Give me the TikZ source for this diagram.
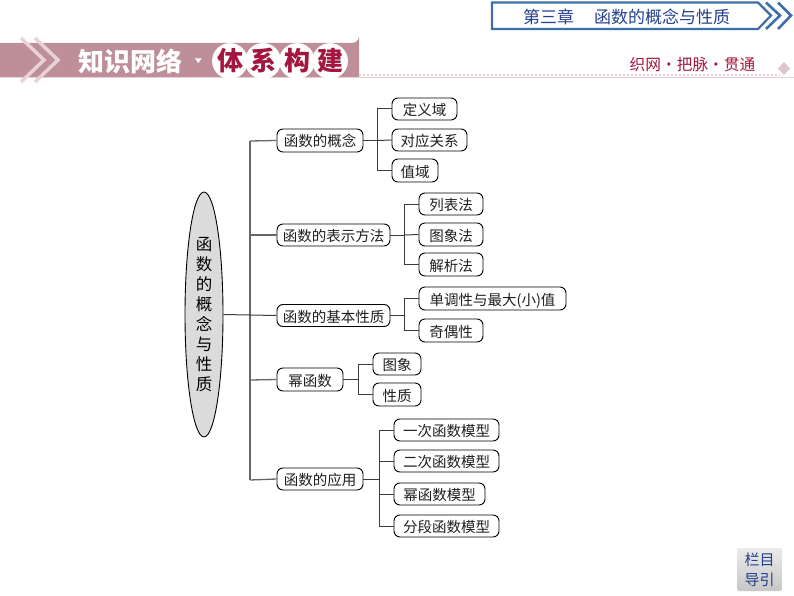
\documentclass[tikz,border=0pt]{standalone}
\usepackage{fontspec}
\setmainfont{Noto Sans CJK SC}
\usetikzlibrary{shapes.geometric,shadings}
\definecolor{bandpink}{HTML}{BE8F99}
\definecolor{palepink}{HTML}{E9D2D6}
\definecolor{crimson}{HTML}{A3173F}
\definecolor{headblue}{HTML}{3F6FA8}
\definecolor{navytext}{HTML}{24408F}
\definecolor{linegrey}{HTML}{3C3C3C}
\tikzset{
  x=1pt,y=-1pt,
  box/.style={draw=black,line width=0.9pt,rounded corners=6pt,fill=white,inner sep=0pt,text height=14pt,text depth=1pt,font=\fontsize{14.5}{16}\selectfont,text=black!88},
  wire/.style={draw=linegrey,line width=1pt},
  spinewire/.style={draw=black!60,line width=1.3pt},
  badge/.style={circle,fill=white,minimum size=32pt,inner sep=0pt,text=crimson,font=\fontsize{26}{28}\bfseries\selectfont},
  chev/.style={draw=palepink,line width=3.5pt,line join=miter,fill=none},
  bluechev/.style={draw=headblue,line width=2.2pt,line join=miter},
}
\begin{document}
\begin{tikzpicture}
\useasboundingbox (0,0) rectangle (794,596);
% header band
\fill[bandpink] (0,43) -- (352,43) arc[start angle=90,end angle=0,radius=7] -- (359,77) -- (0,77) -- cycle;
\draw[palepink,line width=1pt] (0,78) -- (794,78);
\draw[palepink,line width=1.2pt,dash pattern=on 2pt off 2pt] (359,75) -- (780,75);
\draw[chev] (21,38) -- (44,60) -- (21,82);
\draw[chev] (35,38) -- (58,60) -- (35,82);
\node[text=white,font=\fontsize{26}{28}\bfseries\selectfont,inner sep=0pt] (hA) at (130,61) {知识网络};
\fill[white] (195,58.5) -- (201.5,58.5) -- (198.2,63) -- cycle;
\node[badge] (hB) at (230,61) {体};
\node[badge] (hC) at (263,61) {系};
\node[badge] (hD) at (297,61) {构};
\node[badge] (hE) at (330,61) {建};
% chapter banner
\draw[bluechev,fill=white] (492,2.5) -- (758,2.5) -- (771,15.5) -- (758,29) -- (492,29) -- cycle;
\draw[headblue,line width=2.6pt,line join=miter] (766,2.5) -- (780,15.5) -- (766,29);
\draw[headblue,line width=2.6pt,line join=miter] (778,2.5) -- (791,15.5) -- (778,29);
\node[text=navytext,font=\fontsize{17}{19}\selectfont,inner sep=0pt,anchor=west] (ch1) at (523,17) {第三章};
\node[text=navytext,font=\fontsize{17}{19}\selectfont,inner sep=0pt,anchor=west] (ch2) at (594,17) {函数的概念与性质};
\node[text=crimson,font=\fontsize{15.7}{17}\selectfont,inner sep=0pt] (tag) at (692.5,65) {织网·把脉·贯通};
\fill[palepink!80!bandpink] (784,62) -- (790,68.5) -- (784,75) -- (778,68.5) -- cycle;
% nav button
\node[rounded corners=2pt,top color=black!8,bottom color=black!22,minimum width=45pt,minimum height=43pt,inner sep=0pt,align=center,text=navytext,font=\fontsize{15}{20}\selectfont] (nav) at (759.5,569.5) {栏目\\导引};
% root
\node[ellipse,draw=black,line width=0.9pt,fill=black!14,minimum width=38pt,minimum height=245pt,inner sep=0pt,align=center,font=\fontsize{16.5}{20}\selectfont] (root) at (204,314.5) {函\\数\\的\\概\\念\\与\\性\\质};
% level 1
\node[box,minimum width=86pt,minimum height=23pt] (f1) at (320,140.5) {函数的概念};
\node[box,minimum width=113pt,minimum height=22pt] (f2) at (333.5,235) {函数的表示方法};
\node[box,minimum width=113pt,minimum height=22pt] (f3) at (333.5,315.5) {函数的基本性质};
\node[box,minimum width=66pt,minimum height=23pt] (f4) at (310,379.5) {幂函数};
\node[box,minimum width=86pt,minimum height=22pt] (f5) at (320,479) {函数的应用};
% level 2
\node[box,minimum width=65pt,minimum height=22pt] (a1) at (424.5,109) {定义域};
\node[box,minimum width=75pt,minimum height=22pt] (a2) at (429.5,140) {对应关系};
\node[box,minimum width=46pt,minimum height=23pt] (a3) at (415,170.5) {值域};
\node[box,minimum width=64pt,minimum height=22pt] (b1) at (451,204) {列表法};
\node[box,minimum width=64pt,minimum height=23pt] (b2) at (451,234.5) {图象法};
\node[box,minimum width=64pt,minimum height=23pt] (b3) at (451,264.5) {解析法};
\node[box,minimum width=147pt,minimum height=23pt] (c1) at (492.5,298.5) {单调性与最大(小)值};
\node[box,minimum width=64pt,minimum height=23pt] (c2) at (451,330.5) {奇偶性};
\node[box,minimum width=48pt,minimum height=22pt] (d1) at (397,364) {图象};
\node[box,minimum width=48pt,minimum height=23pt] (d2) at (397,394.5) {性质};
\node[box,minimum width=105pt,minimum height=22pt] (e1) at (446.5,430) {一次函数模型};
\node[box,minimum width=105pt,minimum height=22pt] (e2) at (446.5,461) {二次函数模型};
\node[box,minimum width=91pt,minimum height=22pt] (e3) at (439.5,494) {幂函数模型};
\node[box,minimum width=105pt,minimum height=22pt] (e4) at (446.5,526) {分段函数模型};
% junctions
\coordinate (s1) at (250,141);
\coordinate (s5) at (250,480);
\coordinate (s2) at (250,235);
\coordinate (s4) at (250,380);
\coordinate (ja) at (377,140.5);
\coordinate (jb) at (404,235);
\coordinate (jc) at (404,315.5);
\coordinate (jd) at (358,379.5);
\coordinate (je) at (379,479);
% connectors
\draw[spinewire] (s1) -- (s5);
\draw[spinewire] (s1) -- (f1.west);
\draw[spinewire] (s2) -- (f2.west);
\draw[wire] (root.east) -- (f3.west);
\draw[spinewire] (s4) -- (f4.west);
\draw[spinewire] (s5) -- (f5.west);
\draw[wire] (f1.east) -- (ja);
\draw[wire] (ja) |- (a1.west);
\draw[wire] (ja) -- (a2.west);
\draw[wire] (ja) |- (a3.west);
\draw[wire] (f2.east) -- (jb);
\draw[wire] (jb) |- (b1.west);
\draw[wire] (jb) -- (b2.west);
\draw[wire] (jb) |- (b3.west);
\draw[wire] (f3.east) -- (jc);
\draw[wire] (jc) |- (c1.west);
\draw[wire] (jc) |- (c2.west);
\draw[wire] (f4.east) -- (jd);
\draw[wire] (jd) |- (d1.west);
\draw[wire] (jd) |- (d2.west);
\draw[wire] (f5.east) -- (je);
\draw[wire] (je) |- (e1.west);
\draw[wire] (je) |- (e2.west);
\draw[wire] (je) |- (e3.west);
\draw[wire] (je) |- (e4.west);
\end{tikzpicture}
\end{document}
